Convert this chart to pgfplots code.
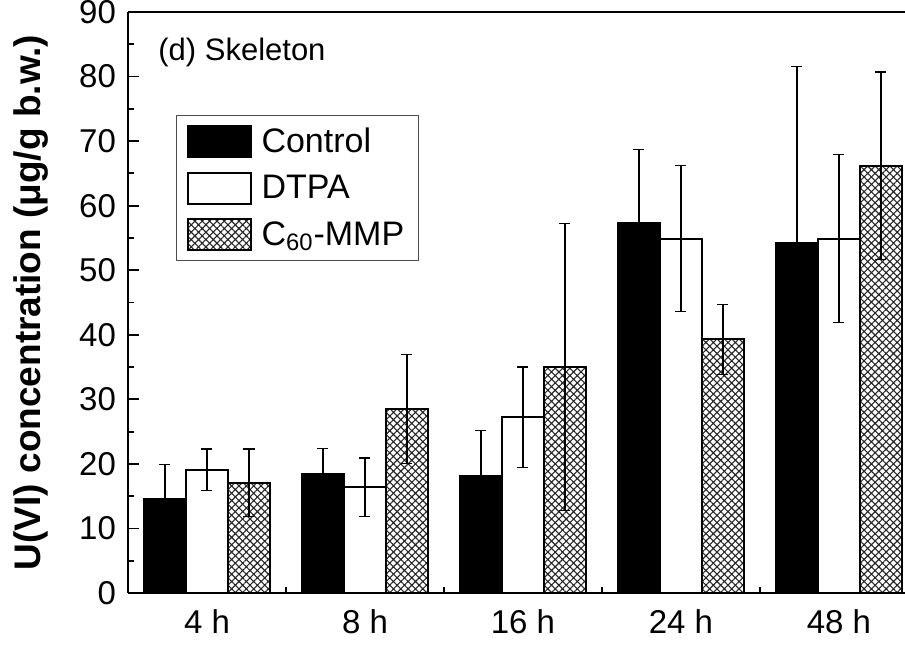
\documentclass[border=0pt]{standalone}
\usepackage{fontspec}
\setmainfont{Liberation Sans}
\usepackage{pgfplots}
\pgfplotsset{compat=1.18}
\usetikzlibrary{patterns.meta}

% values: mean and error (SD)
\begin{document}
\begin{tikzpicture}
\useasboundingbox (0,0) rectangle (452.5pt,322pt);
\begin{axis}[
  at={(64pt,25.5pt)}, anchor=south west,
  scale only axis,
  width=388.5pt, height=290.5pt,
  axis x line=box, axis y line=left,
  axis line style={-, line width=1pt},
  ybar=0pt, bar width=21pt,
  xmin=-0.5, xmax=4.418,
  ymin=0, ymax=90,
  ytick={0,10,...,90},
  minor ytick={5,15,...,85},
  xtick={0,1,2,3,4},
  xticklabels={4 h,8 h,16 h,24 h,48 h},
  minor xtick={0.5,1.5,2.5,3.5},
  xtick pos=left, ytick pos=left,
  tick align=inside,
  major tick length=5.5pt, minor tick length=3pt,
  tick style={line width=0.9pt, black},
  tick label style={font=\fontsize{16.5}{19}\selectfont},
  /pgf/number format/assume math mode=true,
  xticklabel style={yshift=-5pt},
  yticklabel style={xshift=-2.5pt},
  ylabel={\bfseries U(VI) concentration (μg/g b.w.)},
  ylabel style={font=\fontsize{18.5}{21}\selectfont,
    at={(axis description cs:-0.112,0.5)}, anchor=base},
  legend style={at={(axis description cs:0.0618,0.8227)}, anchor=north west,
    draw=black!70, line width=0.5pt,
    font=\fontsize{17}{20}\selectfont,
    row sep=6pt, inner xsep=5pt, inner ysep=4pt,
    cells={anchor=west}},
  legend image code/.code={\draw[#1, line width=1pt] (0pt,-7.75pt) rectangle (31.5pt,7.75pt);
    \path (34.5pt,0pt);},
  error bars/error bar style={line width=0.6pt, black},
  error bars/error mark options={rotate=90, mark size=2.75pt, line width=0.6pt, black},
]
\addplot[fill=black, draw=black, line width=1pt,
  error bars/.cd, y dir=both, y explicit]
  coordinates {(0,14.5) +- (0,5.4) (1,18.5) +- (0,3.9) (2,18.2) +- (0,7.0)
               (3,57.3) +- (0,11.4) (4,54.2) +- (0,27.4)};
\addplot[fill=white, draw=black, line width=1pt,
  error bars/.cd, y dir=both, y explicit]
  coordinates {(0,19.1) +- (0,3.2) (1,16.4) +- (0,4.5) (2,27.2) +- (0,7.8)
               (3,54.9) +- (0,11.3) (4,54.9) +- (0,13.0)};
\addplot[pattern={Hatch[angle=45, distance=2.6pt, line width=0.55pt]},
  pattern color=black!85, draw=black, line width=1pt,
  error bars/.cd, y dir=both, y explicit]
  coordinates {(0,17.1) +- (0,5.2) (1,28.5) +- (0,8.5) (2,35.0) +- (0,22.2)
               (3,39.3) +- (0,5.4) (4,66.2) +- (0,14.5)};
\legend{Control, DTPA, C\textsubscript{60}-MMP}
\node[anchor=west, inner sep=0pt, font=\fontsize{15.5}{18}\selectfont]
  at (axis description cs:0.0386,0.931) {(d) Skeleton};
\end{axis}
\end{tikzpicture}
\end{document}
